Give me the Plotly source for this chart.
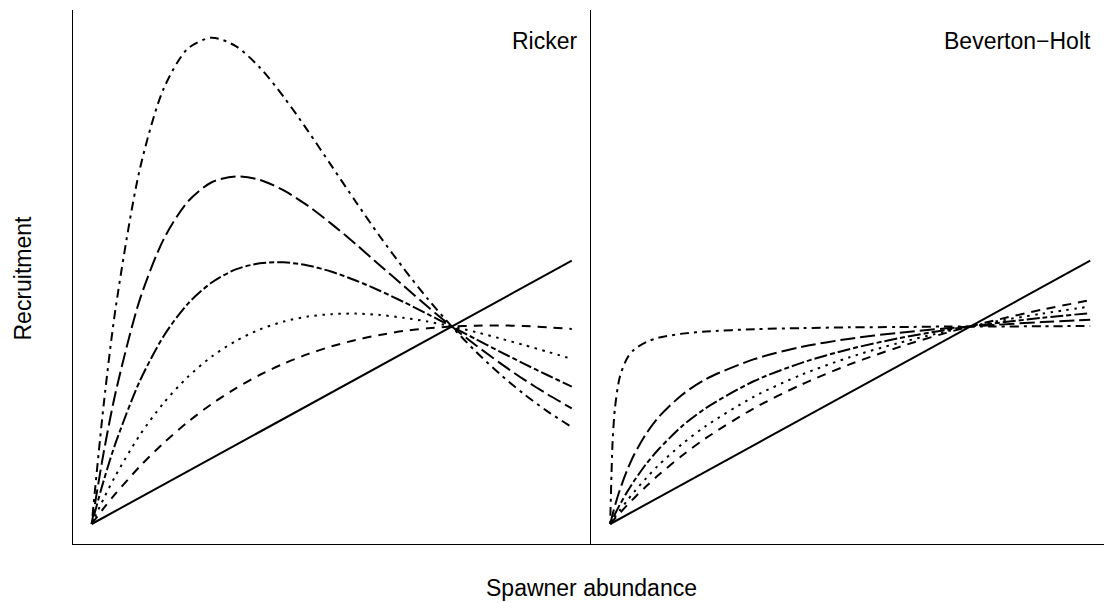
import plotly.graph_objects as go

# Spawner abundance grid (relative units) for the Ricker panel
ricker_S = [0, 0.025, 0.05, 0.1, 0.15, 0.2, 0.25, 0.3, 0.35, 0.4, 0.45, 0.5,
            0.55, 0.6, 0.65, 0.7, 0.75, 0.8, 0.85, 0.9, 0.95, 1.0]
# Ricker recruitment curves, from most to least productive
ricker_R1 = [0, 0.454, 0.822, 1.346, 1.654, 1.805, 1.847, 1.815, 1.734, 1.622, 1.494,
             1.359, 1.224, 1.093, 0.970, 0.855, 0.750, 0.655, 0.570, 0.494, 0.427, 0.368]
ricker_R2 = [0, 0.272, 0.501, 0.851, 1.082, 1.224, 1.298, 1.320, 1.307, 1.267, 1.209,
             1.139, 1.063, 0.983, 0.904, 0.825, 0.750, 0.679, 0.612, 0.549, 0.492, 0.439]
ricker_R3 = [0, 0.165, 0.309, 0.542, 0.714, 0.836, 0.917, 0.967, 0.990, 0.994, 0.982,
             0.958, 0.925, 0.886, 0.843, 0.797, 0.750, 0.702, 0.655, 0.609, 0.565, 0.522]
ricker_R4 = [0, 0.097, 0.185, 0.337, 0.460, 0.558, 0.636, 0.695, 0.739, 0.769, 0.788,
             0.797, 0.799, 0.794, 0.783, 0.769, 0.750, 0.729, 0.705, 0.680, 0.654, 0.627]
ricker_R5 = [0, 0.060, 0.116, 0.218, 0.308, 0.387, 0.456, 0.515, 0.566, 0.609, 0.645,
             0.675, 0.699, 0.718, 0.733, 0.743, 0.750, 0.753, 0.754, 0.752, 0.747, 0.741]

# Spawner abundance grid for the Beverton-Holt panel
bh_S = [0, 0.005, 0.01, 0.02, 0.035, 0.05, 0.075, 0.1, 0.15, 0.2, 0.3, 0.4,
        0.5, 0.6, 0.7, 0.8, 0.9, 1.0]
bh_R1 = [0, 0.312, 0.442, 0.558, 0.629, 0.663, 0.691, 0.707, 0.723, 0.731, 0.740,
         0.744, 0.747, 0.748, 0.750, 0.750, 0.751, 0.752]
bh_R2 = [0, 0.036, 0.070, 0.129, 0.203, 0.264, 0.343, 0.404, 0.491, 0.551, 0.626,
         0.673, 0.704, 0.726, 0.743, 0.756, 0.767, 0.776]
bh_R3 = [0, 0.019, 0.038, 0.073, 0.121, 0.164, 0.228, 0.282, 0.372, 0.441, 0.543,
         0.613, 0.665, 0.705, 0.737, 0.762, 0.783, 0.801]
bh_R4 = [0, 0.0135, 0.027, 0.052, 0.088, 0.122, 0.174, 0.222, 0.304, 0.373, 0.484,
         0.568, 0.634, 0.687, 0.731, 0.768, 0.799, 0.826]
bh_R5 = [0, 0.0105, 0.021, 0.041, 0.071, 0.099, 0.143, 0.185, 0.260, 0.327, 0.440,
         0.531, 0.607, 0.671, 0.726, 0.773, 0.814, 0.850]

# 1:1 replacement line
replace_S = [0, 1]
replace_R = [0, 1]

panel_titles = ["Ricker", "Beverton\u2212Holt"]
x_title = "Spawner abundance"
y_title = "Recruitment"

# R-style line types at lwd = 2
DOTDASH = "3px,5px,9px,5px"
LONGDASH = "15px,5px"
TWODASH = "5px,3px,13px,3px"
DOTTED = "2.5px,5.5px"
DASHED = "9px,7px"
styles = [DOTDASH, LONGDASH, TWODASH, DOTTED, DASHED]

W, H = 1104, 603
FONT = "Liberation Sans, Arial, Helvetica, sans-serif"

fig = go.Figure()

def add_panel(S, curves, xa, ya):
    for R, dash in zip(curves, styles):
        fig.add_trace(go.Scatter(
            x=S, y=R, mode="lines", xaxis=xa, yaxis=ya, showlegend=False,
            hoverinfo="skip",
            line=dict(color="black", width=2, dash=dash, shape="spline", smoothing=0.8),
        ))
    fig.add_trace(go.Scatter(
        x=replace_S, y=replace_R, mode="lines", xaxis=xa, yaxis=ya,
        showlegend=False, hoverinfo="skip",
        line=dict(color="black", width=2),
    ))

add_panel(ricker_S, [ricker_R1, ricker_R2, ricker_R3, ricker_R4, ricker_R5], "x", "y")
add_panel(bh_S, [bh_R1, bh_R2, bh_R3, bh_R4, bh_R5], "x2", "y2")

# pixel geometry of the panels
left_px, mid_px, bottom_px, top_px = 72.5, 591.0, 544.0, 10.0
x_unit = 480.0          # pixels per unit of spawner abundance
y_unit = 263.3          # pixels per unit of recruitment
origin_y = 524.0

y_lo = -(bottom_px - origin_y) / y_unit
y_hi = (origin_y - top_px) / y_unit
y_dom = [(H - bottom_px) / H, (H - top_px) / H]

axis_common = dict(showgrid=False, zeroline=False, showticklabels=False,
                   ticks="", showline=True, linecolor="black", linewidth=1)

fig.update_layout(
    width=W, height=H,
    margin=dict(l=0, r=0, t=0, b=0),
    paper_bgcolor="white", plot_bgcolor="white",
    xaxis=dict(domain=[left_px / W, mid_px / W], range=[-0.04, 1.04],
               anchor="y", **axis_common),
    yaxis=dict(domain=y_dom, range=[y_lo, y_hi], anchor="x", **axis_common),
    xaxis2=dict(domain=[mid_px / W, 1.0],
                range=[-0.04, -0.04 + (W - mid_px) / x_unit],
                anchor="y2", **axis_common),
    yaxis2=dict(domain=y_dom, range=[y_lo, y_hi], anchor="x2", **axis_common),
    font=dict(family=FONT, color="black", size=23),
)

label_font = dict(family=FONT, size=23, color="black")
title_right = [580.0, 1093.0]
for txt, xr in zip(panel_titles, title_right):
    fig.add_annotation(text=txt, xref="paper", yref="paper",
                       x=xr / W, y=1 - 41.5 / H, xanchor="right", yanchor="middle",
                       showarrow=False, font=label_font)

fig.add_annotation(text=x_title, xref="paper", yref="paper",
                   x=591.0 / W, y=1 - 588.0 / H, xanchor="center", yanchor="middle",
                   showarrow=False, font=label_font)
fig.add_annotation(text=y_title, xref="paper", yref="paper",
                   x=22.5 / W, y=1 - 278.0 / H, xanchor="center", yanchor="middle",
                   textangle=-90, showarrow=False, font=label_font)

fig.write_html("out.html")
